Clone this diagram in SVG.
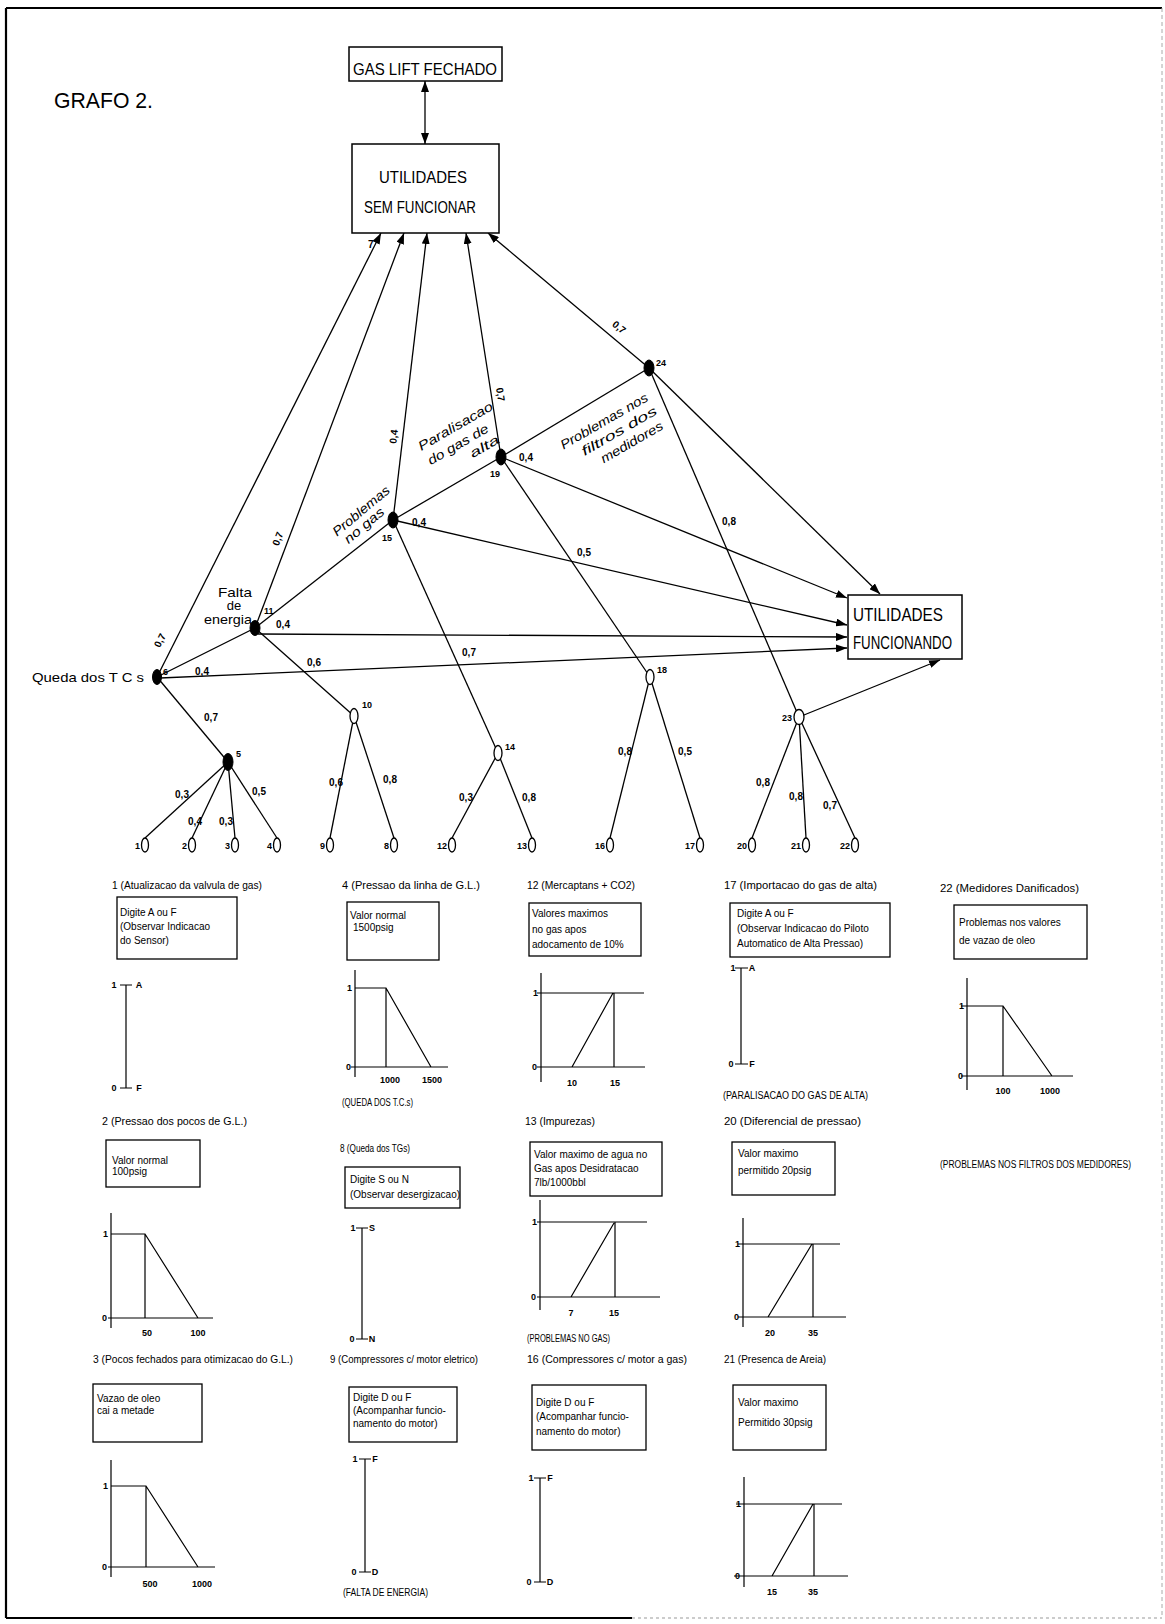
<svg xmlns="http://www.w3.org/2000/svg" width="1165" height="1624" viewBox="0 0 1165 1624">
<style>
  text { font-family: "Liberation Sans", Arial, sans-serif; fill: #000; }
  .ln { stroke: #000; stroke-width: 1.3; fill: none; }
  .ax { stroke: #000; stroke-width: 1.2; fill: none; }
  .ar { marker-end: url(#ah); }
  .box { fill: #fff; stroke: #000; stroke-width: 1.5; }
  .pbox { fill: none; stroke: #000; stroke-width: 1.3; }
  .nf { fill: #000; stroke: #000; stroke-width: 1; }
  .nh { fill: #fff; stroke: #000; stroke-width: 1.3; }
  .big { font-size: 19px; }
  .mbig { font-size: 17px; }
  .lab { font-size: 10px; font-weight: bold; }
  .num { font-size: 9px; font-weight: bold; }
  .it { font-size: 13px; font-style: italic; }
  .up { font-size: 13px; }
  .pt { font-size: 10px; }
  .tk { font-size: 9px; font-weight: bold; }
  .mid { text-anchor: middle; }
  .end { text-anchor: end; }
</style>
<defs>
  <marker id="ah" markerUnits="userSpaceOnUse" markerWidth="11" markerHeight="8" refX="11" refY="4" orient="auto">
    <path d="M0,0 L11,4 L0,8 Z" fill="#000"/>
  </marker>
  <marker id="ahs" markerUnits="userSpaceOnUse" markerWidth="11" markerHeight="8" refX="11" refY="4" orient="auto-start-reverse">
    <path d="M0,0 L11,4 L0,8 Z" fill="#000"/>
  </marker>
</defs>
<rect x="0" y="0" width="1165" height="1624" fill="#fff"/>

<!-- sheet frame -->
<g id="frame">
  <line x1="6" y1="8" x2="1162" y2="8" stroke="#000" stroke-width="2"/>
  <line x1="6" y1="8" x2="6" y2="1618" stroke="#000" stroke-width="2.2"/>
  <line x1="6" y1="1618" x2="632" y2="1618" stroke="#000" stroke-width="1.8"/>
  <line x1="632" y1="1618" x2="1162" y2="1618" stroke="#999" stroke-width="1" stroke-dasharray="3,3"/>
  <line x1="1162" y1="8" x2="1162" y2="1618" stroke="#aaa" stroke-width="1" stroke-dasharray="4,3"/>
</g>

<text x="54" y="108" font-size="22" textLength="99" lengthAdjust="spacingAndGlyphs">GRAFO 2.</text>

<!-- connectors -->
<g id="connectors">
  <line class="ln" x1="425" y1="81" x2="425" y2="144" marker-start="url(#ahs)" marker-end="url(#ah)"/>
  <!-- into UTILIDADES SEM FUNCIONAR -->
  <line class="ln ar" x1="157" y1="677" x2="381" y2="233"/>
  <line class="ln ar" x1="255" y1="628" x2="404" y2="233"/>
  <line class="ln ar" x1="393" y1="520" x2="427" y2="233"/>
  <line class="ln ar" x1="501" y1="457" x2="466" y2="233"/>
  <line class="ln ar" x1="649" y1="368" x2="488" y2="233"/>
  <!-- into UTILIDADES FUNCIONANDO -->
  <line class="ln ar" x1="501" y1="457" x2="847" y2="598"/>
  <line class="ln ar" x1="393" y1="520" x2="847" y2="625"/>
  <line class="ln ar" x1="258" y1="634" x2="847" y2="637"/>
  <line class="ln ar" x1="160" y1="678" x2="847" y2="648"/>
  <line class="ln ar" x1="649" y1="368" x2="880" y2="594"/>
  <line class="ln ar" x1="799" y1="717" x2="940" y2="660"/>
  <!-- tree edges -->
  <line class="ln" x1="157" y1="677" x2="255" y2="628"/>
  <line class="ln" x1="157" y1="677" x2="228" y2="762"/>
  <line class="ln" x1="255" y1="628" x2="354" y2="716"/>
  <line class="ln" x1="255" y1="628" x2="393" y2="520"/>
  <line class="ln" x1="393" y1="520" x2="498" y2="753"/>
  <line class="ln" x1="393" y1="520" x2="501" y2="457"/>
  <line class="ln" x1="501" y1="457" x2="650" y2="677"/>
  <line class="ln" x1="501" y1="457" x2="649" y2="368"/>
  <line class="ln" x1="649" y1="368" x2="799" y2="717"/>
  <line class="ln" x1="228" y1="762" x2="145" y2="838"/>
  <line class="ln" x1="228" y1="762" x2="192" y2="838"/>
  <line class="ln" x1="228" y1="762" x2="235" y2="838"/>
  <line class="ln" x1="228" y1="762" x2="277" y2="838"/>
  <line class="ln" x1="354" y1="716" x2="330" y2="838"/>
  <line class="ln" x1="354" y1="716" x2="394" y2="838"/>
  <line class="ln" x1="498" y1="753" x2="452" y2="838"/>
  <line class="ln" x1="498" y1="753" x2="532" y2="838"/>
  <line class="ln" x1="650" y1="677" x2="610" y2="838"/>
  <line class="ln" x1="650" y1="677" x2="700" y2="838"/>
  <line class="ln" x1="799" y1="717" x2="752" y2="838"/>
  <line class="ln" x1="799" y1="717" x2="806" y2="838"/>
  <line class="ln" x1="799" y1="717" x2="855" y2="838"/>

  <!-- edge weights -->
  <text class="lab mid" transform="translate(163,642) rotate(-63)">0,7</text>
  <text class="lab mid" transform="translate(281,540) rotate(-69)">0,7</text>
  <text class="lab mid" transform="translate(397,437) rotate(-83)">0,4</text>
  <text class="lab mid" transform="translate(497,395) rotate(81)">0,7</text>
  <text class="lab mid" transform="translate(617,330) rotate(39)">0,7</text>
  <text class="lab mid" x="202" y="675">0,4</text>
  <text class="lab mid" x="283" y="628">0,4</text>
  <text class="lab mid" x="314" y="666">0,6</text>
  <text class="lab mid" x="211" y="721">0,7</text>
  <text class="lab mid" x="419" y="526">0,4</text>
  <text class="lab mid" x="526" y="461">0,4</text>
  <text class="lab mid" x="584" y="556">0,5</text>
  <text class="lab mid" x="469" y="656">0,7</text>
  <text class="lab mid" x="729" y="525">0,8</text>
  <text class="lab mid" x="182" y="798">0,3</text>
  <text class="lab mid" x="195" y="825">0,4</text>
  <text class="lab mid" x="226" y="825">0,3</text>
  <text class="lab mid" x="259" y="795">0,5</text>
  <text class="lab mid" x="336" y="786">0,6</text>
  <text class="lab mid" x="390" y="783">0,8</text>
  <text class="lab mid" x="466" y="801">0,3</text>
  <text class="lab mid" x="529" y="801">0,8</text>
  <text class="lab mid" x="625" y="755">0,8</text>
  <text class="lab mid" x="685" y="755">0,5</text>
  <text class="lab mid" x="763" y="786">0,8</text>
  <text class="lab mid" x="796" y="800">0,8</text>
  <text class="lab mid" x="830" y="809">0,7</text>
</g>

<!-- top boxes -->
<g id="n-gaslift">
  <rect class="box" x="349" y="47" width="153" height="34"/>
  <text class="mbig" x="353" y="75" textLength="144" lengthAdjust="spacingAndGlyphs">GAS LIFT FECHADO</text>
</g>
<g id="n7">
  <rect class="box" x="352" y="144" width="147" height="89"/>
  <text class="mbig mid" x="423" y="183" textLength="88" lengthAdjust="spacingAndGlyphs">UTILIDADES</text>
  <text class="mbig mid" x="420" y="213" textLength="112" lengthAdjust="spacingAndGlyphs">SEM FUNCIONAR</text>
  <text class="lab" x="368" y="248">7</text>
</g>
<g id="n-func">
  <rect class="box" x="848" y="595" width="114" height="64"/>
  <text class="big" x="853" y="621" textLength="90" lengthAdjust="spacingAndGlyphs">UTILIDADES</text>
  <text class="big" x="853" y="649" textLength="99" lengthAdjust="spacingAndGlyphs">FUNCIONANDO</text>
</g>

<!-- event nodes -->
<g id="n6">
  <ellipse class="nf" cx="157" cy="677" rx="4.5" ry="7.5"/>
  <text class="num" x="163" y="675">6</text>
  <text class="up" x="32" y="682" textLength="112" lengthAdjust="spacingAndGlyphs">Queda dos T C s</text>
</g>
<g id="n11">
  <ellipse class="nf" cx="255" cy="628" rx="5" ry="7.5"/>
  <text class="num" x="264" y="614">11</text>
  <text class="up mid" x="235" y="597" textLength="34" lengthAdjust="spacingAndGlyphs">Falta</text>
  <text class="up mid" x="234" y="610">de</text>
  <text class="up mid" x="228" y="624" textLength="48" lengthAdjust="spacingAndGlyphs">energia</text>
</g>
<g id="n15">
  <ellipse class="nf" cx="393" cy="520" rx="5" ry="8"/>
  <text class="num mid" x="387" y="541">15</text>
  <g transform="translate(362,512) rotate(-40)">
    <text class="it mid" x="0" y="3" textLength="70" lengthAdjust="spacingAndGlyphs">Problemas</text>
    <text class="it mid" x="-7" y="16" textLength="48" lengthAdjust="spacingAndGlyphs">no gas</text>
  </g>
</g>
<g id="n19">
  <ellipse class="nf" cx="501" cy="457" rx="5" ry="8"/>
  <text class="num mid" x="495" y="477">19</text>
  <g transform="translate(501,457) rotate(-30)">
    <text class="it" x="-66" y="-45" textLength="84" lengthAdjust="spacingAndGlyphs">Paralisacao</text>
    <text class="it" x="-65" y="-28" textLength="68" lengthAdjust="spacingAndGlyphs">do gas de</text>
    <text class="it" x="-25" y="-13" textLength="32" lengthAdjust="spacingAndGlyphs">alta</text>
  </g>
</g>
<g id="n24">
  <ellipse class="nf" cx="649" cy="368" rx="5" ry="8"/>
  <text class="num" x="656" y="366">24</text>
  <g transform="translate(649,368) rotate(-30)">
    <text class="it end" x="-16" y="28" textLength="99" lengthAdjust="spacingAndGlyphs">Problemas nos</text>
    <text class="it end" x="-15" y="44" textLength="85" lengthAdjust="spacingAndGlyphs">filtros dos</text>
    <text class="it end" x="-17" y="60" textLength="70" lengthAdjust="spacingAndGlyphs">medidores</text>
  </g>
</g>
<g id="n5">
  <ellipse class="nf" cx="228" cy="762" rx="5" ry="8.5"/>
  <text class="num" x="236" y="757">5</text>
</g>
<g id="n10">
  <ellipse class="nh" cx="354" cy="716" rx="4" ry="7.5"/>
  <text class="num" x="362" y="708">10</text>
</g>
<g id="n14">
  <ellipse class="nh" cx="498" cy="753" rx="4" ry="7.5"/>
  <text class="num" x="505" y="750">14</text>
</g>
<g id="n18">
  <ellipse class="nh" cx="650" cy="677" rx="4" ry="7.5"/>
  <text class="num" x="657" y="673">18</text>
</g>
<g id="n23">
  <ellipse class="nh" cx="799" cy="717" rx="5" ry="7.5"/>
  <text class="num end" x="792" y="721">23</text>
</g>

<!-- leaf nodes -->
<g id="n1"><ellipse class="nh" cx="145" cy="845" rx="3.5" ry="7"/><text class="num end" x="140" y="849">1</text></g>
<g id="n2"><ellipse class="nh" cx="192" cy="845" rx="3.5" ry="7"/><text class="num end" x="187" y="849">2</text></g>
<g id="n3"><ellipse class="nh" cx="235" cy="845" rx="3.5" ry="7"/><text class="num end" x="230" y="849">3</text></g>
<g id="n4"><ellipse class="nh" cx="277" cy="845" rx="3.5" ry="7"/><text class="num end" x="272" y="849">4</text></g>
<g id="n9"><ellipse class="nh" cx="330" cy="845" rx="3.5" ry="7"/><text class="num end" x="325" y="849">9</text></g>
<g id="n8"><ellipse class="nh" cx="394" cy="845" rx="3.5" ry="7"/><text class="num end" x="389" y="849">8</text></g>
<g id="n12"><ellipse class="nh" cx="452" cy="845" rx="3.5" ry="7"/><text class="num end" x="447" y="849">12</text></g>
<g id="n13"><ellipse class="nh" cx="532" cy="845" rx="3.5" ry="7"/><text class="num end" x="527" y="849">13</text></g>
<g id="n16"><ellipse class="nh" cx="610" cy="845" rx="3.5" ry="7"/><text class="num end" x="605" y="849">16</text></g>
<g id="n17"><ellipse class="nh" cx="700" cy="845" rx="3.5" ry="7"/><text class="num end" x="695" y="849">17</text></g>
<g id="n20"><ellipse class="nh" cx="752" cy="845" rx="3.5" ry="7"/><text class="num end" x="747" y="849">20</text></g>
<g id="n21"><ellipse class="nh" cx="806" cy="845" rx="3.5" ry="7"/><text class="num end" x="801" y="849">21</text></g>
<g id="n22"><ellipse class="nh" cx="855" cy="845" rx="3.5" ry="7"/><text class="num end" x="850" y="849">22</text></g>

<!-- variable panels: row 1 -->
<g id="p1">
  <text class="pt" x="112" y="889" textLength="150" lengthAdjust="spacingAndGlyphs">1 (Atualizacao da valvula de gas)</text>
  <rect class="pbox" x="117" y="897" width="120" height="62"/>
  <text class="pt" x="120" y="916">Digite A ou F</text>
  <text class="pt" x="120" y="930">(Observar Indicacao</text>
  <text class="pt" x="120" y="944">do Sensor)</text>
  <path class="ax" d="M126,985 V1088 M120,985 H132 M120,1088 H132"/>
  <text class="tk mid" x="114" y="988">1</text><text class="tk mid" x="139" y="988">A</text>
  <text class="tk mid" x="114" y="1091">0</text><text class="tk mid" x="139" y="1091">F</text>
</g>
<g id="p4">
  <text class="pt" x="342" y="889" textLength="138" lengthAdjust="spacingAndGlyphs">4 (Pressao da linha de G.L.)</text>
  <rect class="pbox" x="347" y="902" width="92" height="58"/>
  <text class="pt" x="350" y="919">Valor normal</text>
  <text class="pt" x="353" y="931">1500psig</text>
  <path class="ax" d="M355,970 V1077 M351,1067 H448 M355,988 H386 L431,1067 M386,988 V1067"/>
  <text class="tk end" x="352" y="991">1</text>
  <text class="tk end" x="351" y="1070">0</text>
  <text class="tk mid" x="390" y="1083">1000</text>
  <text class="tk mid" x="432" y="1083">1500</text>
  <text class="pt" x="342" y="1106" textLength="71" lengthAdjust="spacingAndGlyphs">(QUEDA DOS T.C.s)</text>
</g>
<g id="p12">
  <text class="pt" x="527" y="889" textLength="108" lengthAdjust="spacingAndGlyphs">12 (Mercaptans + CO2)</text>
  <rect class="pbox" x="529" y="903" width="112" height="53"/>
  <text class="pt" x="532" y="917">Valores maximos</text>
  <text class="pt" x="532" y="933">no gas apos</text>
  <text class="pt" x="532" y="948">adocamento de 10%</text>
  <path class="ax" d="M541,973 V1082 M537,1067 H645 M537,993 H644 M572,1067 L613,993 M614,993 V1067"/>
  <text class="tk end" x="538" y="996">1</text>
  <text class="tk end" x="537" y="1070">0</text>
  <text class="tk mid" x="572" y="1086">10</text>
  <text class="tk mid" x="615" y="1086">15</text>
</g>
<g id="p17">
  <text class="pt" x="724" y="889" textLength="153" lengthAdjust="spacingAndGlyphs">17 (Importacao do gas de alta)</text>
  <rect class="pbox" x="730" y="903" width="160" height="54"/>
  <text class="pt" x="737" y="917">Digite A ou F</text>
  <text class="pt" x="737" y="932">(Observar Indicacao do Piloto</text>
  <text class="pt" x="737" y="947">Automatico de Alta Pressao)</text>
  <path class="ax" d="M741,968 V1064 M735,968 H748 M735,1064 H748"/>
  <text class="tk mid" x="733" y="971">1</text><text class="tk mid" x="752" y="971">A</text>
  <text class="tk mid" x="731" y="1067">0</text><text class="tk mid" x="752" y="1067">F</text>
  <text class="pt" x="723" y="1099" textLength="145" lengthAdjust="spacingAndGlyphs">(PARALISACAO DO GAS DE ALTA)</text>
</g>
<g id="p22">
  <text class="pt" x="940" y="892" textLength="139" lengthAdjust="spacingAndGlyphs">22 (Medidores Danificados)</text>
  <rect class="pbox" x="954" y="905" width="133" height="54"/>
  <text class="pt" x="959" y="926">Problemas nos valores</text>
  <text class="pt" x="959" y="944">de vazao de oleo</text>
  <path class="ax" d="M967,978 V1090 M961,1076 H1073 M961,1006 H1003 L1052,1076 M1003,1006 V1076"/>
  <text class="tk end" x="964" y="1009">1</text>
  <text class="tk end" x="963" y="1079">0</text>
  <text class="tk mid" x="1003" y="1094">100</text>
  <text class="tk mid" x="1050" y="1094">1000</text>
</g>

<!-- row 2 -->
<g id="p2">
  <text class="pt" x="102" y="1125" textLength="145" lengthAdjust="spacingAndGlyphs">2 (Pressao dos pocos de G.L.)</text>
  <rect class="pbox" x="106" y="1140" width="94" height="47"/>
  <text class="pt" x="112" y="1164">Valor normal</text>
  <text class="pt" x="112" y="1175">100psig</text>
  <path class="ax" d="M111,1213 V1328 M108,1318 H213 M111,1234 H145 L198,1318 M145,1234 V1318"/>
  <text class="tk end" x="108" y="1237">1</text>
  <text class="tk end" x="107" y="1321">0</text>
  <text class="tk mid" x="147" y="1336">50</text>
  <text class="tk mid" x="198" y="1336">100</text>
</g>
<g id="p8">
  <text class="pt" x="340" y="1152" textLength="70" lengthAdjust="spacingAndGlyphs">8 (Queda dos TGs)</text>
  <rect class="pbox" x="345" y="1167" width="115" height="41"/>
  <text class="pt" x="350" y="1183">Digite S ou N</text>
  <text class="pt" x="350" y="1198">(Observar desergizacao)</text>
  <path class="ax" d="M362,1228 V1339 M356,1228 H368 M356,1339 H368"/>
  <text class="tk mid" x="353" y="1231">1</text><text class="tk mid" x="372" y="1231">S</text>
  <text class="tk mid" x="352" y="1342">0</text><text class="tk mid" x="372" y="1342">N</text>
</g>
<g id="p13">
  <text class="pt" x="525" y="1125" textLength="70" lengthAdjust="spacingAndGlyphs">13 (Impurezas)</text>
  <rect class="pbox" x="530" y="1142" width="132" height="54"/>
  <text class="pt" x="534" y="1158">Valor maximo de agua no</text>
  <text class="pt" x="534" y="1172">Gas apos Desidratacao</text>
  <text class="pt" x="534" y="1186">7lb/1000bbl</text>
  <path class="ax" d="M540,1200 V1310 M537,1297 H660 M537,1222 H647 M571,1297 L614,1223 M615,1222 V1297"/>
  <text class="tk end" x="537" y="1225">1</text>
  <text class="tk end" x="536" y="1300">0</text>
  <text class="tk mid" x="571" y="1316">7</text>
  <text class="tk mid" x="614" y="1316">15</text>
  <text class="pt" x="527" y="1342" textLength="83" lengthAdjust="spacingAndGlyphs">(PROBLEMAS NO GAS)</text>
</g>
<g id="p20">
  <text class="pt" x="724" y="1125" textLength="137" lengthAdjust="spacingAndGlyphs">20 (Diferencial de pressao)</text>
  <rect class="pbox" x="732" y="1142" width="103" height="53"/>
  <text class="pt" x="738" y="1157">Valor maximo</text>
  <text class="pt" x="738" y="1174">permitido 20psig</text>
  <path class="ax" d="M743,1218 V1327 M738,1317 H846 M738,1244 H840 M768,1317 L812,1244 M813,1244 V1317"/>
  <text class="tk end" x="740" y="1247">1</text>
  <text class="tk end" x="739" y="1320">0</text>
  <text class="tk mid" x="770" y="1336">20</text>
  <text class="tk mid" x="813" y="1336">35</text>
</g>
<text class="pt" x="940" y="1168" textLength="191" lengthAdjust="spacingAndGlyphs">(PROBLEMAS NOS FILTROS DOS MEDIDORES)</text>

<!-- row 3 -->
<g id="p3">
  <text class="pt" x="93" y="1363" textLength="200" lengthAdjust="spacingAndGlyphs">3 (Pocos fechados para otimizacao do G.L.)</text>
  <rect class="pbox" x="93" y="1384" width="109" height="58"/>
  <text class="pt" x="97" y="1402">Vazao de oleo</text>
  <text class="pt" x="97" y="1414">cai a metade</text>
  <path class="ax" d="M111,1460 V1577 M108,1567 H215 M111,1486 H146 L198,1567 M146,1486 V1567"/>
  <text class="tk end" x="108" y="1489">1</text>
  <text class="tk end" x="107" y="1570">0</text>
  <text class="tk mid" x="150" y="1587">500</text>
  <text class="tk mid" x="202" y="1587">1000</text>
</g>
<g id="p9">
  <text class="pt" x="330" y="1363" textLength="148" lengthAdjust="spacingAndGlyphs">9 (Compressores c/ motor eletrico)</text>
  <rect class="pbox" x="349" y="1387" width="108" height="55"/>
  <text class="pt" x="353" y="1401">Digite D ou F</text>
  <text class="pt" x="353" y="1414">(Acompanhar funcio-</text>
  <text class="pt" x="353" y="1427">namento do motor)</text>
  <path class="ax" d="M365,1459 V1572 M359,1459 H371 M359,1572 H371"/>
  <text class="tk mid" x="355" y="1462">1</text><text class="tk mid" x="375" y="1462">F</text>
  <text class="tk mid" x="354" y="1575">0</text><text class="tk mid" x="375" y="1575">D</text>
  <text class="pt" x="343" y="1596" textLength="85" lengthAdjust="spacingAndGlyphs">(FALTA DE ENERGIA)</text>
</g>
<g id="p16">
  <text class="pt" x="527" y="1363" textLength="160" lengthAdjust="spacingAndGlyphs">16 (Compressores c/ motor a gas)</text>
  <rect class="pbox" x="532" y="1385" width="114" height="65"/>
  <text class="pt" x="536" y="1406">Digite D ou F</text>
  <text class="pt" x="536" y="1420">(Acompanhar funcio-</text>
  <text class="pt" x="536" y="1435">namento do motor)</text>
  <path class="ax" d="M540,1478 V1582 M534,1478 H546 M534,1582 H546"/>
  <text class="tk mid" x="531" y="1481">1</text><text class="tk mid" x="550" y="1481">F</text>
  <text class="tk mid" x="529" y="1585">0</text><text class="tk mid" x="550" y="1585">D</text>
</g>
<g id="p21">
  <text class="pt" x="724" y="1363" textLength="102" lengthAdjust="spacingAndGlyphs">21 (Presenca de Areia)</text>
  <rect class="pbox" x="733" y="1385" width="93" height="65"/>
  <text class="pt" x="738" y="1406">Valor maximo</text>
  <text class="pt" x="738" y="1426">Permitido 30psig</text>
  <path class="ax" d="M744,1477 V1587 M734,1576 H848 M736,1504 H842 M772,1576 L813,1504 M814,1504 V1576"/>
  <text class="tk end" x="741" y="1507">1</text>
  <text class="tk end" x="740" y="1579">0</text>
  <text class="tk mid" x="772" y="1595">15</text>
  <text class="tk mid" x="813" y="1595">35</text>
</g>
</svg>
